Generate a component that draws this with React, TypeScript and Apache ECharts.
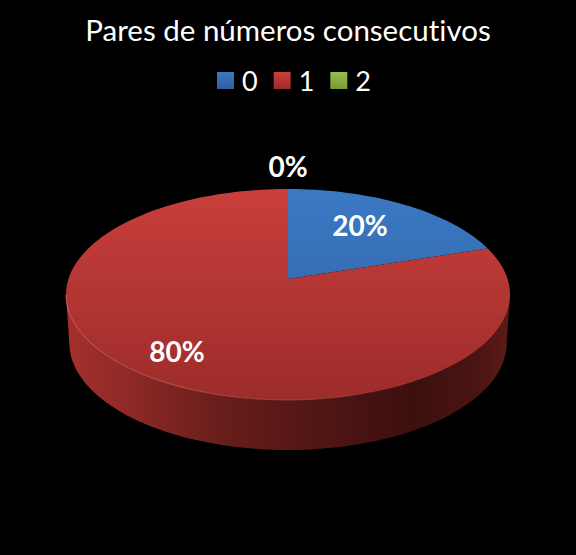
import React, { useEffect, useRef } from "react";
import * as echarts from "echarts";

const titleText = "Pares de números consecutivos";
const categories = ["0", "1", "2"];
const sliceValues = [20, 80, 0];
const labelTexts = ["20%", "80%", "0%"];
const labelRadius = [0.67, 0.78, 1.3];
const labelAngleShift = [-4, 0, 0];
const topColors = [
  ["#3b79c5", "#2f5f9c"],
  ["#c93f3c", "#9c2c2a"],
  ["#98bd4a", "#7a9a38"],
];

const CX = 288;
const CY = 279;
const A = 103.2;
const B = 219.6;
const K = 0.147;
const DEPTH = 48;
// Angles between which the side wall faces the viewer.
const WALL_FROM = 98.7;
const WALL_TO = 261.3;

function project(angleDeg: number, r: number): [number, number] {
  const t = (angleDeg * Math.PI) / 180;
  const u = r * Math.sin(t);
  const v = r * Math.cos(t);
  const w = 1 + K * v;
  return [CX + (B * u) / w, CY - (A * v) / w];
}

function projectBottom(angleDeg: number): [number, number] {
  const [x, y] = project(angleDeg, 1);
  const v = Math.cos((angleDeg * Math.PI) / 180);
  return [CX + (x - CX) * 0.985, y + DEPTH - 2 * v];
}

const total = sliceValues.reduce((s, x) => s + x, 0);

function sliceStart(index: number) {
  let sum = 0;
  for (let i = 0; i < index; i++) sum += sliceValues[i];
  return (sum / total) * 360;
}

function arcAngles(from: number, to: number) {
  const steps = Math.max(2, Math.ceil((to - from) / 2));
  const out: number[] = [];
  for (let i = 0; i <= steps; i++) out.push(from + ((to - from) * i) / steps);
  return out;
}

function makeRenderItem(index: number) {
  return function renderItem(_params: any, api: any) {
    const value = api.value(0);
    const start = sliceStart(index);
    const sweep = (value / total) * 360;
    const end = start + sweep;
    const children: any[] = [];
    if (sweep > 0) {
      const rim = arcAngles(start, end).map((a) => project(a, 1));
      const wallFrom = Math.max(start, WALL_FROM);
      const wallTo = Math.min(end, WALL_TO);
      if (wallTo > wallFrom) {
        const wallAngles = arcAngles(wallFrom, wallTo);
        const wallTop = wallAngles.map((a) => project(a, 1));
        const wallLow = wallAngles.map((a) => projectBottom(a));
        children.push({
          type: "polygon",
          z2: 1,
          shape: { points: [...wallTop, ...wallLow.reverse()] },
          style: {
            fill: {
              type: "linear",
              global: true,
              x: 66,
              y: 0,
              x2: 511,
              y2: 0,
              colorStops: [
                { offset: 0, color: "#a5302d" },
                { offset: 0.15, color: "#8c2926" },
                { offset: 0.35, color: "#681e1b" },
                { offset: 0.55, color: "#521614" },
                { offset: 0.78, color: "#3c100e" },
                { offset: 0.92, color: "#4a1412" },
                { offset: 1, color: "#5e1b18" },
              ],
            },
          },
        });
        children.push({
          type: "polyline",
          z2: 3,
          shape: { points: wallTop },
          style: {
            fill: "none",
            lineWidth: 1,
            stroke: {
              type: "linear",
              global: true,
              x: 66,
              y: 0,
              x2: 511,
              y2: 0,
              colorStops: [
                { offset: 0, color: "rgba(226,120,110,0.7)" },
                { offset: 0.55, color: "rgba(226,120,110,0.35)" },
                { offset: 0.8, color: "rgba(226,120,110,0)" },
                { offset: 1, color: "rgba(226,120,110,0)" },
              ],
            },
          },
        });
      }
      children.push({
        type: "polygon",
        z2: 2,
        shape: { points: [[CX, CY], ...rim] },
        style: {
          fill: {
            type: "linear",
            global: true,
            x: 0,
            y: 189,
            x2: 0,
            y2: 400,
            colorStops: [
              { offset: 0, color: topColors[index][0] },
              { offset: 1, color: topColors[index][1] },
            ],
          },
        },
      });
    }
    const mid = start + sweep / 2 + labelAngleShift[index];
    const anchorAngle = sweep > 0 ? mid : start;
    const [lx, ly] = project(anchorAngle, labelRadius[index]);
    children.push({
      type: "text",
      z2: 4,
      x: lx,
      y: ly,
      style: {
        text: labelTexts[index],
        fill: "#ffffff",
        font: "bold 28px Lato",
        align: "center",
        verticalAlign: "middle",
      },
    });
    return { type: "group", children };
  };
}

export default function App() {
  const ref = useRef<HTMLDivElement>(null);
  useEffect(() => {
    const chart = echarts.init(ref.current!, null, { renderer: "svg" });
    chart.setOption({
      animation: false,
      backgroundColor: "#000000",
      title: {
        text: titleText,
        left: "center",
        top: 9,
        textStyle: { color: "#ffffff", fontFamily: "Lato", fontSize: 29.5, fontWeight: "normal" },
      },
      legend: {
        data: categories.map((name, i) => ({
          name,
          itemStyle: {
            color: {
              type: "linear",
              x: 0,
              y: 0,
              x2: 0,
              y2: 1,
              colorStops: [
                { offset: 0, color: topColors[i][0] },
                { offset: 1, color: topColors[i][1] },
              ],
            },
          },
        })),
        left: 212,
        top: 62,
        itemWidth: 17,
        itemHeight: 17,
        itemGap: 16,
        icon: "rect",
        textStyle: { color: "#ffffff", fontFamily: "Lato", fontSize: 27, padding: [0, 0, 0, 3] },
      },
      series: categories.map((name, i) => ({
        type: "custom",
        name,
        coordinateSystem: "none",
        itemStyle: { color: topColors[i][0] },
        data: [[sliceValues[i]]],
        renderItem: makeRenderItem(i),
      })),
    });
    return () => chart.dispose();
  }, []);
  return (
    <div
      ref={ref}
      style={{ position: "fixed", left: 0, top: 0, width: 576, height: 555, fontVariantLigatures: "none" }}
    />
  );
}
